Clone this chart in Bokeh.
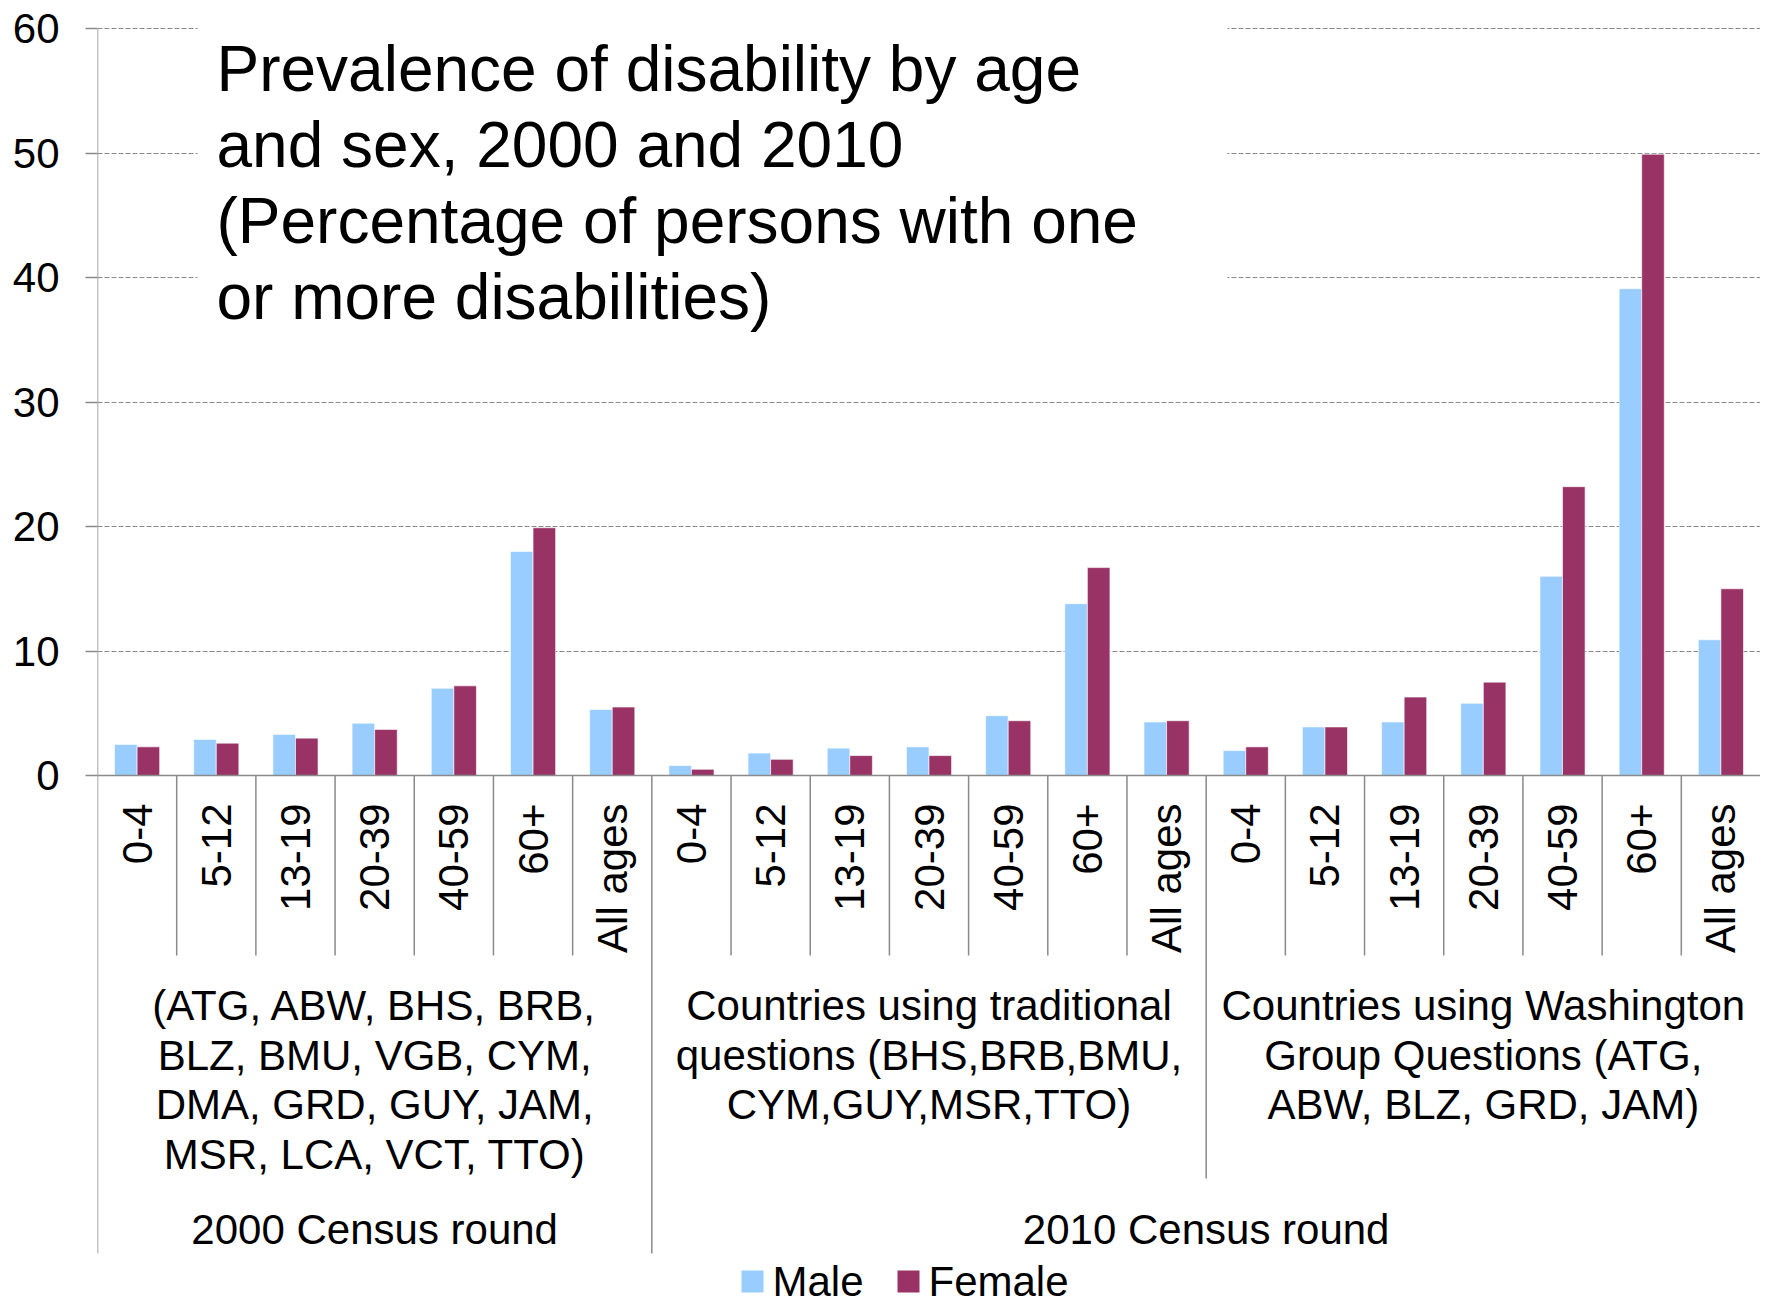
import numpy as np
from bokeh.plotting import figure
from bokeh.models import Range1d, FixedTicker, ColumnDataSource
from bokeh.core.properties import value
from bokeh.embed import file_html
from bokeh.resources import INLINE

# ---------------- data ----------------
ages = ["0-4", "5-12", "13-19", "20-39", "40-59", "60+", "All ages"]

male_2000 = [2.5, 2.9, 3.3, 4.2, 7.0, 18.0, 5.3]
female_2000 = [2.3, 2.6, 3.0, 3.7, 7.2, 19.9, 5.5]
male_2010_trad = [0.8, 1.8, 2.2, 2.3, 4.8, 13.8, 4.3]
female_2010_trad = [0.5, 1.3, 1.6, 1.6, 4.4, 16.7, 4.4]
male_2010_wg = [2.0, 3.9, 4.3, 5.8, 16.0, 39.1, 10.9]
female_2010_wg = [2.3, 3.9, 6.3, 7.5, 23.2, 49.9, 15.0]

group_labels = [
    ["(ATG, ABW, BHS, BRB,", "BLZ, BMU, VGB, CYM,", "DMA, GRD, GUY, JAM,", "MSR, LCA, VCT, TTO)"],
    ["Countries using traditional", "questions (BHS,BRB,BMU,", "CYM,GUY,MSR,TTO)"],
    ["Countries using Washington", "Group Questions (ATG,", "ABW, BLZ, GRD, JAM)"],
]
round_labels = ["2000 Census round", "2010 Census round"]
round_groups = [[0], [1, 2]]
title_lines = ["Prevalence of disability by age", "and sex, 2000 and 2010",
               "(Percentage of persons with one", "or more disabilities)"]
series_names = ["Male", "Female"]
yticks = [0, 10, 20, 30, 40, 50, 60]

MALE_C = "#99CCFF"
FEMALE_C = "#993366"
GRAY = "#8a8a8a"
FONT = "Liberation Sans"

male = male_2000 + male_2010_trad + male_2010_wg
female = female_2000 + female_2010_trad + female_2010_wg
ng = len(ages)
n = len(male)

# ---------------- geometry ----------------
W, H = 1760, 1308
L, R, T, B = 97, W, 8, H
Y0_PX, Y60_PX = 775, 28
k = (Y0_PX - Y60_PX) / 60.0
y_end = 60 + (Y60_PX - T) / k
y_start = -(B - Y0_PX) / k
xk = (R - L) / n


def yd(py):
    return (Y0_PX - py) / k


def xd(px):
    return (px - L) / xk


p = figure(width=W, height=H, x_range=Range1d(0, n), y_range=Range1d(y_start, y_end),
           output_backend="svg", toolbar_location=None, x_axis_location=None,
           min_border_left=L, min_border_right=0, min_border_top=T, min_border_bottom=0)
p.outline_line_color = None
p.background_fill_color = "white"
p.border_fill_color = "white"
p.xgrid.visible = False
p.ygrid.ticker = FixedTicker(ticks=yticks[1:])
p.ygrid.grid_line_color = GRAY
p.ygrid.grid_line_dash = "5 2"
p.ygrid.grid_line_width = 1

ax = p.yaxis[0]
ax.ticker = FixedTicker(ticks=yticks)
ax.axis_line_color = None
ax.major_tick_out = 12
ax.major_tick_in = 0
ax.minor_tick_out = 0
ax.minor_tick_in = 0
ax.major_tick_line_color = GRAY
ax.major_tick_line_width = 1.5
ax.major_label_standoff = 26
ax.major_label_text_font = FONT
ax.major_label_text_font_size = "42px"
ax.major_label_text_color = "black"

# ---------------- bars ----------------
idx = np.arange(n) + 0.5
bw = 0.285
src = ColumnDataSource(dict(xm=idx - bw / 2, xf=idx + bw / 2, male=male, female=female))
p.vbar(x="xm", top="male", bottom=0, width=bw, source=src, fill_color=MALE_C,
       line_color="white", line_alpha=0.6, line_width=1)
p.vbar(x="xf", top="female", bottom=0, width=bw, source=src, fill_color=FEMALE_C,
       line_color="white", line_alpha=0.6, line_width=1)

# ---------------- title box ----------------
p.quad(left=xd(197), right=xd(1227), bottom=yd(348), top=y_end,
       fill_color="white", line_color=None)
for i, line in enumerate(title_lines):
    p.text(x=[xd(216)], y=[yd(68 + i * 76)], text=[line], text_font=value(FONT),
           text_font_size="64px", text_color="black", text_align="left",
           text_baseline="alphabetic")

# ---------------- axis lines & separators ----------------
p.segment(x0=[0], y0=[0], x1=[n], y1=[0], line_color=GRAY, line_width=1.5)
p.segment(x0=[0], y0=[60], x1=[0], y1=[yd(1253)], line_color=GRAY, line_width=1.5)
sep_x, sep_bottom = [], []
for b in range(1, n):
    sep_x.append(b)
    if b == ng:
        sep_bottom.append(yd(1253))
    elif b % ng == 0:
        sep_bottom.append(yd(1178))
    else:
        sep_bottom.append(yd(955))
p.segment(x0=sep_x, y0=[0] * len(sep_x), x1=sep_x, y1=sep_bottom,
          line_color=GRAY, line_width=1.5)

# ---------------- category labels ----------------
p.text(x=idx, y=[yd(803)] * n, text=ages * 3, angle=np.pi / 2,
       text_font=value(FONT), text_font_size="42px", text_color="black",
       text_align="right", text_baseline="middle")

for g, lines in enumerate(group_labels):
    cx = g * ng + ng / 2
    for j, line in enumerate(lines):
        p.text(x=[cx], y=[yd(1005 + j * 49.6)], text=[line], text_font=value(FONT),
               text_font_size="42px", text_color="black", text_align="center",
               text_baseline="middle")

for r, lab in enumerate(round_labels):
    gs = round_groups[r]
    cx = (min(gs) * ng + (max(gs) + 1) * ng) / 2
    p.text(x=[cx], y=[yd(1229)], text=[lab], text_font=value(FONT),
           text_font_size="42px", text_color="black", text_align="center",
           text_baseline="middle")

# ---------------- legend ----------------
leg_x = [752, 908]
leg_colors = [MALE_C, FEMALE_C]
leg_y = 1281
p.rect(x=[xd(v) for v in leg_x], y=[yd(leg_y)] * 2, width=22, height=22,
       width_units="screen", height_units="screen", fill_color=leg_colors, line_color=None)
p.text(x=[xd(v + 20) for v in leg_x], y=[yd(leg_y)] * 2, text=series_names,
       text_font=value(FONT), text_font_size="42px", text_color="black",
       text_align="left", text_baseline="middle")

open("out.html", "w").write(file_html(p, INLINE))
